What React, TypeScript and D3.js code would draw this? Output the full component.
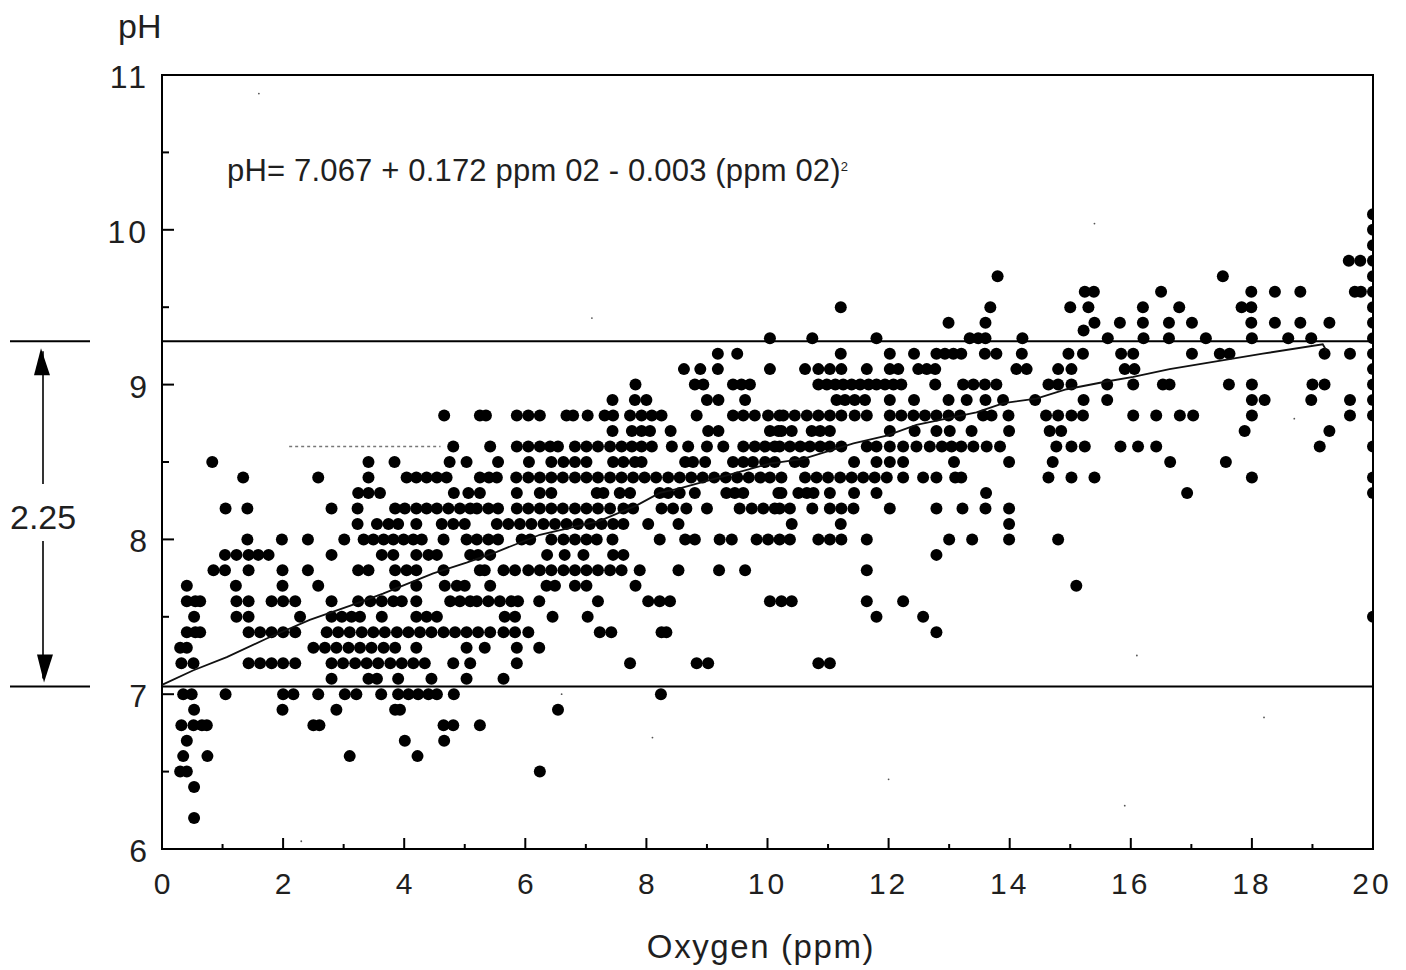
import React from "react";
import * as d3 from "d3";

const xTickValues = [0, 2, 4, 6, 8, 10, 12, 14, 16, 18, 20];
const minorX = [1, 3, 5, 7, 9, 11, 13, 15, 17, 19];
const yTickValues = [6, 7, 8, 9, 10, 11];
const minorY = [6.5, 7.5, 8.5, 9.5, 10.5];

const p101 = [20];
const p100 = [20];
const p99 = [20];
const p98 = [19.6, 19.79, 20];
const p97 = [13.8, 17.52, 20];
const p96 = [15.24, 15.39, 16.5, 17.99, 18.38, 18.8, 19.7, 19.8, 20];
const p95 = [11.21, 13.68, 15.0, 15.3, 16.2, 16.8, 17.83, 17.99, 20];
const p94 = [12.99, 13.6, 15.4, 15.82, 16.2, 16.63, 17.01, 17.99, 18.38, 18.8, 19.28, 20];
const p935 = [15.22];
const p93 = [10.04, 10.74, 11.8, 13.34, 13.48, 13.6, 14.21, 15.62, 16.21, 16.63, 17.24, 18.0, 18.6, 18.98, 20];
const p92 = [9.18, 9.5, 11.21, 12.02, 12.42, 12.79, 12.93, 13.07, 13.2, 13.59, 13.78, 14.2, 14.97, 15.21, 15.84, 16.04, 17.01, 17.47, 17.63, 19.2, 19.62, 20];
const p91 = [8.62, 8.89, 9.18, 10.04, 10.62, 10.84, 11.03, 11.22, 11.64, 12.02, 12.16, 12.49, 12.63, 12.77, 14.11, 14.28, 14.8, 15.02, 15.9, 16.06, 20];
const p90 = [7.82, 8.8, 8.94, 9.43, 9.57, 9.71, 10.84, 10.98, 11.12, 11.25, 11.39, 11.53, 11.67, 11.8, 11.94, 12.08, 12.21, 12.77, 13.23, 13.4, 13.59, 13.78, 14.64, 14.8, 15.02, 15.61, 16.04, 16.53, 16.64, 17.62, 18, 19.0, 19.2, 20];
const p89 = [7.44, 7.81, 8.0, 9.0, 9.19, 9.63, 11.14, 11.28, 11.44, 11.61, 12.02, 12.42, 12.99, 13.29, 13.6, 13.89, 14.42, 15.22, 15.61, 18, 18.21, 18.98, 19.62, 20];
const p88 = [4.66, 5.25, 5.35, 5.86, 6.05, 6.24, 6.68, 6.79, 7.03, 7.31, 7.45, 7.73, 7.92, 8.09, 8.25, 8.83, 9.43, 9.6, 9.79, 10.01, 10.2, 10.26, 10.45, 10.65, 10.84, 11.03, 11.22, 11.44, 11.64, 12.02, 12.21, 12.41, 12.6, 12.79, 12.99, 13.18, 13.56, 13.7, 13.98, 14.6, 14.8, 15.02, 15.21, 16.04, 16.42, 16.81, 17.03, 18, 19.62, 20];
const p87 = [7.44, 7.76, 7.92, 8.06, 8.4, 9.02, 9.19, 10.04, 10.18, 10.23, 10.4, 10.73, 10.87, 11.03, 12.02, 12.43, 12.79, 13.01, 13.37, 13.99, 14.66, 14.85, 17.88, 19.28];
const p86 = [4.81, 5.42, 5.86, 6.05, 6.24, 6.41, 6.54, 6.82, 7.01, 7.2, 7.4, 7.59, 7.76, 7.92, 8.09, 8.42, 8.69, 9, 9.27, 9.6, 9.79, 9.96, 10.12, 10.2, 10.37, 10.54, 10.7, 10.87, 11.03, 11.22, 11.64, 11.8, 12.02, 12.24, 12.46, 12.68, 12.88, 13.04, 13.2, 13.4, 13.62, 13.84, 14.77, 15.02, 15.24, 15.83, 16.12, 16.42, 19.12, 20];
const p85 = [0.83, 3.41, 3.84, 4.75, 5.03, 5.55, 6.06, 6.43, 6.63, 6.82, 7.01, 7.45, 7.62, 7.81, 7.92, 8.64, 8.77, 8.97, 9.43, 9.6, 9.76, 9.96, 10.12, 10.45, 10.6, 11.43, 11.8, 12.02, 12.24, 13.08, 13.99, 14.71, 16.65, 17.57];
const p84 = [1.34, 2.58, 3.41, 4.04, 4.2, 4.37, 4.54, 4.7, 5.25, 5.4, 5.53, 5.85, 6.05, 6.24, 6.43, 6.62, 6.82, 7.01, 7.2, 7.4, 7.59, 7.78, 7.97, 8.16, 8.36, 8.55, 8.74, 8.93, 9.12, 9.31, 9.5, 9.69, 9.88, 10.04, 10.23, 10.62, 10.81, 11, 11.2, 11.39, 11.58, 11.77, 11.97, 12.24, 12.57, 12.79, 13.1, 13.2, 14.64, 15.02, 15.4, 18, 20];
const p83 = [3.24, 3.41, 3.6, 4.82, 5.06, 5.25, 5.86, 6.24, 6.43, 7.18, 7.29, 7.56, 7.73, 8.22, 8.36, 8.55, 8.8, 9.32, 9.46, 9.6, 10.18, 10.23, 10.51, 10.65, 10.76, 11.03, 11.43, 11.8, 13.61, 16.93, 20];
const p82 = [1.05, 1.41, 2.8, 3.23, 3.85, 4.01, 4.2, 4.37, 4.54, 4.73, 4.92, 5.09, 5.2, 5.39, 5.55, 5.86, 6.05, 6.24, 6.43, 6.62, 6.82, 7.01, 7.2, 7.4, 7.62, 7.78, 8.25, 8.44, 8.66, 9.0, 9.54, 9.74, 9.93, 10.12, 10.2, 10.37, 10.74, 11.03, 11.22, 11.42, 12.02, 12.79, 13.22, 13.6, 13.99];
const p81 = [3.23, 3.55, 3.74, 3.9, 4.2, 4.62, 4.81, 5.0, 5.53, 5.72, 5.91, 6.1, 6.3, 6.49, 6.68, 6.87, 7.07, 7.26, 7.45, 7.62, 8.03, 8.53, 10.4, 11.21, 13.99];
const p80 = [1.41, 1.98, 2.41, 3.01, 3.33, 3.49, 3.66, 3.82, 3.99, 4.15, 4.29, 4.65, 5.03, 5.2, 5.39, 5.55, 5.94, 6.08, 6.43, 6.63, 6.82, 7.01, 7.18, 7.44, 8.22, 8.64, 8.8, 9.21, 9.41, 9.82, 10.01, 10.2, 10.37, 10.84, 11.03, 11.22, 11.64, 13, 13.38, 13.99, 14.8];
const p79 = [1.04, 1.23, 1.43, 1.59, 1.76, 2.8, 3.63, 3.82, 4.2, 4.4, 4.54, 5.09, 5.22, 5.42, 6.36, 6.65, 6.96, 7.45, 7.62, 12.79];
const p78 = [0.85, 1.04, 1.43, 1.99, 2.41, 3.24, 3.41, 3.85, 4.04, 4.2, 4.65, 5.25, 5.33, 5.64, 5.83, 6.05, 6.24, 6.43, 6.63, 6.82, 7.01, 7.2, 7.4, 7.59, 7.89, 8.53, 9.2, 9.63, 11.64];
const p77 = [0.41, 1.22, 1.99, 2.58, 3.85, 4.2, 4.67, 4.87, 5.0, 5.42, 6.35, 6.49, 6.82, 7.01, 7.82, 15.1];
const p76 = [0.41, 0.55, 0.63, 1.23, 1.43, 1.81, 2.0, 2.2, 2.8, 3.24, 3.44, 3.63, 3.82, 3.96, 4.2, 4.76, 4.92, 5.09, 5.2, 5.39, 5.58, 5.77, 5.88, 6.23, 7.2, 8.03, 8.22, 8.39, 10.04, 10.23, 10.4, 11.64, 12.24];
const p75 = [0.53, 1.23, 1.43, 2.28, 2.8, 2.97, 3.13, 3.27, 3.63, 4.2, 4.37, 4.54, 5.66, 5.83, 6.45, 7.03, 11.8, 12.57, 20];
const p74 = [0.41, 0.55, 0.63, 1.43, 1.62, 1.81, 2, 2.2, 2.72, 2.91, 3.1, 3.3, 3.49, 3.68, 3.88, 4.07, 4.26, 4.45, 4.65, 4.84, 5.03, 5.22, 5.42, 5.64, 5.83, 6.05, 7.23, 7.42, 8.25, 8.33, 12.79];
const p73 = [0.3, 0.41, 2.5, 2.69, 2.88, 3.08, 3.27, 3.46, 3.66, 3.85, 4.2, 5.03, 5.33, 5.86, 6.23];
const p72 = [0.32, 0.52, 1.43, 1.62, 1.81, 2, 2.2, 2.8, 2.99, 3.19, 3.38, 3.57, 3.77, 3.96, 4.15, 4.34, 4.81, 5.09, 5.86, 7.73, 8.83, 9.02, 10.84, 11.03];
const p71 = [2.8, 3.41, 3.55, 3.9, 4.45, 5.03, 5.64];
const p70 = [0.35, 0.49, 1.05, 2, 2.17, 2.58, 3.02, 3.21, 3.62, 3.9, 4.07, 4.23, 4.4, 4.54, 4.82, 8.24];
const p69 = [0.53, 1.99, 2.88, 3.85, 3.93, 6.54];
const p68 = [0.32, 0.52, 0.66, 0.74, 2.5, 2.6, 4.65, 4.81, 5.25];
const p67 = [0.41, 4.01, 4.66];
const p66 = [0.35, 0.75, 3.1, 4.22];
const p65 = [0.3, 0.41, 6.24];
const p64 = [0.53];
const p62 = [0.53];

const rows: [number, number[]][] = [
  [10.1, p101], [10, p100], [9.9, p99], [9.8, p98], [9.7, p97], [9.6, p96], [9.5, p95], [9.4, p94], [9.35, p935], [9.3, p93],
  [9.2, p92], [9.1, p91], [9, p90], [8.9, p89], [8.8, p88], [8.7, p87], [8.6, p86], [8.5, p85], [8.4, p84], [8.3, p83],
  [8.2, p82], [8.1, p81], [8, p80], [7.9, p79], [7.8, p78], [7.7, p77], [7.6, p76], [7.5, p75], [7.4, p74], [7.3, p73],
  [7.2, p72], [7.1, p71], [7, p70], [6.9, p69], [6.8, p68], [6.7, p67], [6.6, p66], [6.5, p65], [6.4, p64], [6.2, p62],
];

const fitX = [0, 0.52, 1.07, 1.73, 2.44, 3.1, 3.65, 4.48, 5.03, 5.53, 6.24, 7.23, 7.84, 8.22, 8.55, 9.3, 10.04, 10.59, 11.42, 11.97, 12.46, 13.45, 13.9, 14.44, 14.94, 15.6, 16.04, 16.64, 17.41, 18.18, 19.17, 19.23];
const fitY = [7.06, 7.155, 7.24, 7.36, 7.48, 7.57, 7.65, 7.78, 7.85, 7.92, 8.03, 8.12, 8.22, 8.3, 8.33, 8.41, 8.49, 8.52, 8.62, 8.67, 8.74, 8.82, 8.88, 8.91, 8.97, 9.02, 9.05, 9.1, 9.15, 9.2, 9.26, 9.22];

const rangeTop = 9.28;
const rangeBottom = 7.05;
const speckX = [1.6, 7.1, 15.4, 16.1, 8.1, 18.2, 12.0, 2.3, 15.9, 18.7, 6.6];
const speckY = [10.88, 9.43, 10.04, 7.25, 6.72, 6.85, 6.45, 6.05, 6.28, 8.78, 7.0];
const eqMain = "pH= 7.067 + 0.172 ppm 02 - 0.003 (ppm 02)";
const eqPower = "2";
const xLabel = "Oxygen (ppm)";
const yLabel = "pH";
const delta = "2.25";

const L = 162, R = 1373, T = 75, B = 849;
const x = d3.scaleLinear().domain([0, 20]).range([L, R]);
const y = d3.scaleLinear().domain([6, 11]).range([B, T]);
const fitLine = d3.line<number>().x((d) => x(d)).y((_, i) => y(fitY[i]));
const font = "'Liberation Sans', Arial, sans-serif";
const ink = "#1f1f1f";

export default function App() {
  return (
    <svg width={1406} height={970} style={{ position: "absolute", left: 0, top: 0, background: "#fff" }} fontFamily={font} fill={ink}>
      <defs>
        <clipPath id="plot"><rect x={L} y={T} width={R - L + 1} height={B - T} /></clipPath>
      </defs>
      <rect x={L} y={T} width={R - L} height={B - T} fill="none" stroke="#000" strokeWidth={2} />
      {yTickValues.map((v) => <line key={v} x1={L} x2={L + 12} y1={y(v)} y2={y(v)} stroke="#000" strokeWidth={2} />)}
      {minorY.map((v) => <line key={v} x1={L} x2={L + 7} y1={y(v)} y2={y(v)} stroke="#000" strokeWidth={2} />)}
      {xTickValues.map((v) => <line key={v} x1={x(v)} x2={x(v)} y1={B} y2={B - 11} stroke="#000" strokeWidth={2} />)}
      {minorX.map((v) => <line key={v} x1={x(v)} x2={x(v)} y1={B} y2={B - 5} stroke="#000" strokeWidth={2} />)}

      {yTickValues.map((v) => (
        <text key={v} x={v > 9 ? 149 : 147} y={y(v) + 13} textAnchor="end" fontSize={32} letterSpacing={v > 9 ? 3 : 0}>{v}</text>
      ))}
      {xTickValues.map((v) => (
        <text key={v} x={x(v) + (v === 20 ? -1 : 0)} y={894} textAnchor="middle" fontSize={30} letterSpacing={v > 9 ? 3 : 0}>{v}</text>
      ))}
      <text x={118} y={38} fontSize={34}>{yLabel}</text>
      <text x={761} y={958} textAnchor="middle" fontSize={33} letterSpacing={1.6}>{xLabel}</text>
      <text x={227} y={181} fontSize={31} textLength={621} lengthAdjust="spacing">
        {eqMain}
        <tspan dy={-10} fontSize={13}>{eqPower}</tspan>
      </text>

      <g clipPath="url(#plot)">
        {rows.flatMap(([ph, xs]) => xs.map((v, i) => (
          <circle key={`${ph}-${i}`} cx={x(v)} cy={y(ph)} r={6} fill="#000" />
        )))}
      </g>
      <line x1={x(2.1)} x2={x(4.6)} y1={y(8.6)} y2={y(8.6)} stroke="#777" strokeWidth={1.5} strokeDasharray="3 3" />
      <path d={fitLine(fitX) ?? ""} fill="none" stroke="#111" strokeWidth={1.8} />

      {[rangeTop, rangeBottom].map((v) => (
        <g key={v}>
          <line x1={L} x2={R} y1={y(v)} y2={y(v)} stroke="#000" strokeWidth={2} />
          <line x1={10} x2={90} y1={y(v)} y2={y(v)} stroke="#000" strokeWidth={2} />
        </g>
      ))}
      <line x1={43} x2={43} y1={y(rangeTop) + 10} y2={484} stroke="#000" strokeWidth={1.6} />
      <line x1={43} x2={43} y1={541} y2={y(rangeBottom) - 8} stroke="#000" strokeWidth={1.6} />
      <path d={`M41 ${y(rangeTop) + 7} L34 ${y(rangeTop) + 34} L50 ${y(rangeTop) + 34} Z`} fill="#000" />
      <path d={`M44 ${y(rangeBottom) - 4} L37 ${y(rangeBottom) - 32} L53 ${y(rangeBottom) - 32} Z`} fill="#000" />
      <text x={10} y={529} fontSize={34}>{delta}</text>

      {speckX.map((v, i) => <circle key={i} cx={x(v)} cy={y(speckY[i])} r={0.9} fill="#555" />)}
    </svg>
  );
}
